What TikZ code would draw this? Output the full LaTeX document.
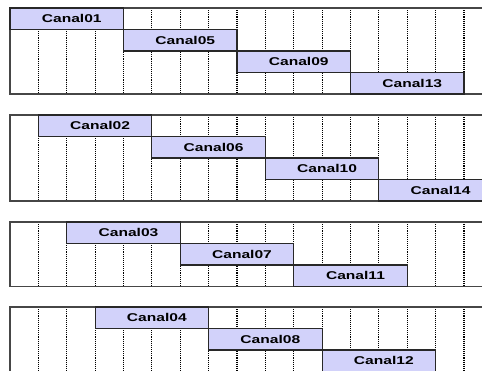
\documentclass[tikz,border=0pt]{standalone}
\usepackage{fontspec}
\usepackage{graphicx}
\setmainfont{Liberation Sans}
\definecolor{barfill}{RGB}{210,210,250}
\definecolor{barline}{RGB}{40,40,40}
\definecolor{frameline}{RGB}{70,70,70}
\newcommand\canallabel[1]{\hspace*{10pt}\scalebox{1.38}[1]{Canal\ifnum#1<10 0\fi#1}}
\begin{document}
\begin{tikzpicture}[x=1pt,y=-1pt,
  bar/.style={draw=barline, fill=barfill, line width=1.1pt, minimum width=113.5pt,
    minimum height=21.5pt, inner sep=0pt, outer sep=0pt, anchor=north west,
    font=\bfseries\fontsize{11.3}{11.3}\selectfont},
  gridline/.style={line width=1.1pt, dash pattern=on 1.1pt off 1pt, draw=black},
  frame/.style={draw=frameline, line width=1.1pt}]
\useasboundingbox (0,0) rectangle (482,370);
\fill[white] (0,0) rectangle (482,370);
\clip (0,0) rectangle (482,370);
\foreach \g/\T/\R in {0/8/4,1/115/4,2/222/3,3/307/3}{
  \pgfmathsetmacro\B{\T+\R*21.5}
  \foreach \k in {1,...,16}{
    \draw[gridline] ({10+\k*28.375},\T) -- ({10+\k*28.375},\B);
  }
  \draw[frame] (482,\T) -| (10,\B) -- (482,\B);
  \foreach \r in {1,...,\R}{
    \pgfmathtruncatemacro\n{\g+1+4*(\r-1)}
    \pgfmathsetmacro\xx{10+(\g+4*(\r-1))*28.375}
    \pgfmathsetmacro\yy{\T+(\r-1)*21.5}
    \node[bar] (c\n) at (\xx,\yy) {\canallabel{\n}};
  }
}
\end{tikzpicture}
\end{document}
